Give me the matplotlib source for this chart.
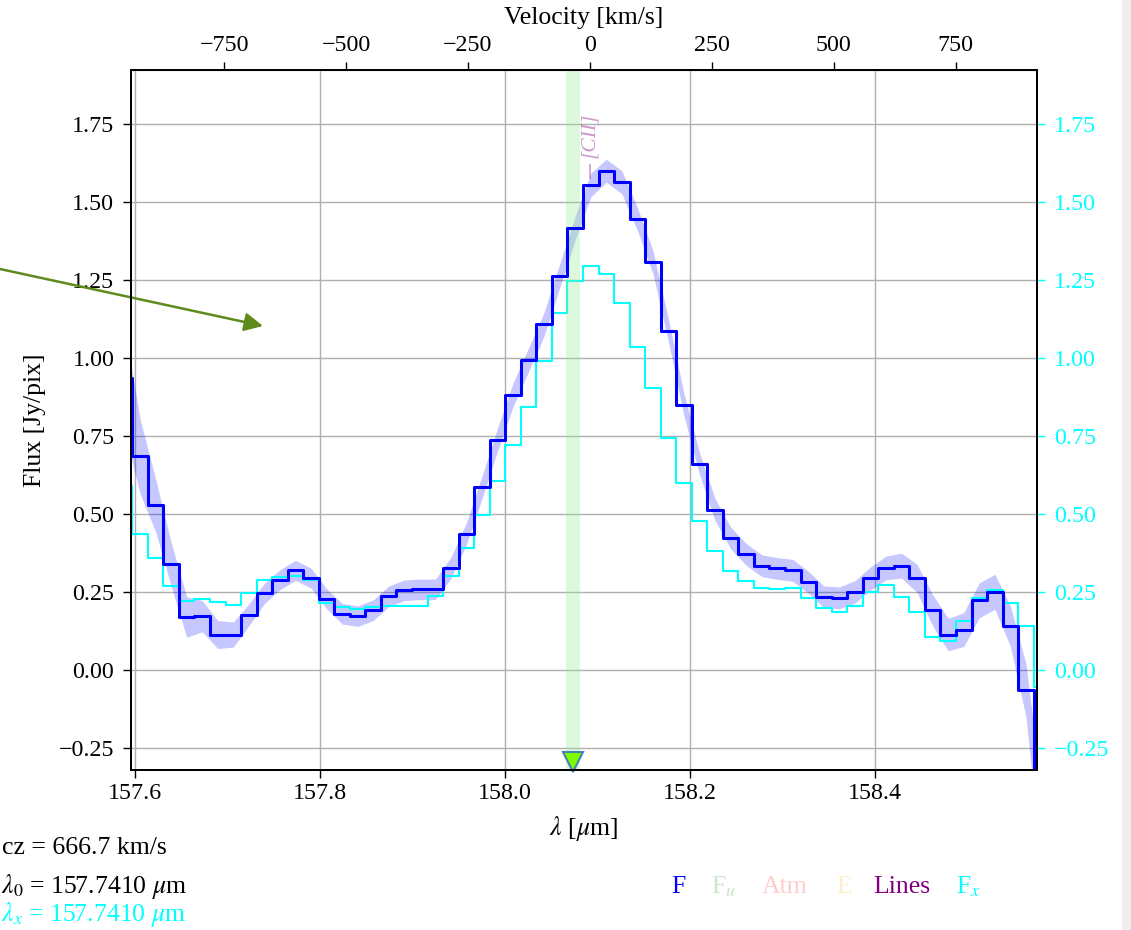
import numpy as np
import matplotlib
matplotlib.use('Agg')
import matplotlib.pyplot as plt
from matplotlib.patches import Rectangle
from matplotlib.ticker import FormatStrFormatter

plt.rcParams['font.family'] = ['Liberation Serif', 'DejaVu Serif']
plt.rcParams['mathtext.fontset'] = 'stix'

# спектр: центри бінів [мкм], потік F, похибка, потік F_x
lam = np.array([
    157.5887, 157.6055, 157.6223, 157.6391, 157.6559, 157.6727, 157.6895, 157.7063,
    157.7231, 157.7399, 157.7567, 157.7735, 157.7903, 157.8071, 157.8239, 157.8407,
    157.8575, 157.8743, 157.8911, 157.9079, 157.9247, 157.9415, 157.9583, 157.9751,
    157.9919, 158.0087, 158.0255, 158.0423, 158.0591, 158.0759, 158.0927, 158.1095,
    158.1263, 158.1431, 158.1599, 158.1767, 158.1935, 158.2103, 158.2271, 158.2439,
    158.2607, 158.2775, 158.2943, 158.3111, 158.3279, 158.3447, 158.3615, 158.3783,
    158.3951, 158.4119, 158.4287, 158.4455, 158.4623, 158.4791, 158.4959, 158.5127,
    158.5295, 158.5463, 158.5631, 158.5799])

flux = np.array([
    0.936, 0.685, 0.528, 0.338, 0.169, 0.172, 0.113, 0.113,
    0.176, 0.245, 0.289, 0.319, 0.294, 0.228, 0.180, 0.172,
    0.191, 0.236, 0.255, 0.258, 0.258, 0.327, 0.437, 0.585,
    0.738, 0.882, 0.995, 1.109, 1.264, 1.417, 1.555, 1.601,
    1.564, 1.446, 1.308, 1.088, 0.850, 0.661, 0.514, 0.423,
    0.370, 0.334, 0.325, 0.319, 0.281, 0.234, 0.231, 0.250,
    0.293, 0.327, 0.334, 0.293, 0.191, 0.113, 0.129, 0.223,
    0.250, 0.140, -0.065, -0.500])

err = np.array([
    0.170, 0.120, 0.085, 0.070, 0.065, 0.050, 0.045, 0.040,
    0.035, 0.033, 0.032, 0.032, 0.032, 0.032, 0.033, 0.033,
    0.033, 0.033, 0.033, 0.033, 0.033, 0.034, 0.035, 0.036,
    0.037, 0.038, 0.038, 0.038, 0.038, 0.038, 0.038, 0.037,
    0.037, 0.037, 0.037, 0.036, 0.036, 0.035, 0.035, 0.035,
    0.035, 0.035, 0.035, 0.035, 0.035, 0.035, 0.035, 0.036,
    0.037, 0.038, 0.040, 0.045, 0.050, 0.052, 0.054, 0.056,
    0.056, 0.065, 0.085, 0.120])

flux_x = np.array([
    0.588, 0.434, 0.357, 0.268, 0.222, 0.228, 0.217, 0.207,
    0.247, 0.287, 0.298, 0.302, 0.287, 0.215, 0.201, 0.195,
    0.200, 0.205, 0.206, 0.206, 0.236, 0.302, 0.391, 0.495,
    0.605, 0.722, 0.842, 0.992, 1.144, 1.248, 1.296, 1.269,
    1.176, 1.037, 0.904, 0.744, 0.599, 0.478, 0.380, 0.316,
    0.284, 0.263, 0.260, 0.263, 0.231, 0.199, 0.186, 0.204,
    0.250, 0.271, 0.234, 0.185, 0.105, 0.092, 0.156, 0.231,
    0.255, 0.215, 0.140, -0.056])

cz = 666.7
lam0 = 157.7410
line_name = '[CII]'
mask_band = (158.0655, 158.0808)
mask_marker = 158.0735

c = 299792.458
lam_obs = lam0 * (1 + cz / c)

tick_fs = 17.3
lab_fs = 18.5

fig = plt.figure(figsize=(11.31, 9.30), dpi=100)
ax = fig.add_axes([0.11583, 0.17204, 0.80106, 0.75269])

# похибка, F_x, маска, F
ax.fill_between(lam, flux - err, flux + err, color='blue', alpha=0.22, lw=0, zorder=1)
ax.plot(lam, flux_x, drawstyle='steps-mid', color='cyan', lw=1.5, zorder=2)
ax.axvspan(mask_band[0], mask_band[1], color='lightgreen', alpha=0.3, lw=0, zorder=2.5)
ax.plot(lam, flux, drawstyle='steps-mid', color='blue', lw=2.2, zorder=3)

# маркер маски внизу
ax.plot([mask_marker], [0.012], marker='v', ms=14, mfc='lawngreen', mec='steelblue',
        mew=1.5, transform=ax.get_xaxis_transform(), clip_on=False, zorder=5)

# лінія [CII]
ax.plot([lam_obs, lam_obs], [1.578, 1.620], color='purple', alpha=0.4, lw=1.2, zorder=4)
ax.text(lam_obs, 1.642, line_name, rotation=90, ha='center', va='bottom',
        color='purple', alpha=0.4, style='italic', fontsize=15.5)

ax.set_xlim(157.5957, 158.5751)
ax.set_ylim(-0.3215, 1.924)
ax.set_xticks([157.6, 157.8, 158.0, 158.2, 158.4])
ax.xaxis.set_major_formatter(FormatStrFormatter('%.1f'))
ax.set_yticks([-0.25, 0.0, 0.25, 0.5, 0.75, 1.0, 1.25, 1.5, 1.75])
ax.grid(True, color='#b0b0b0', lw=1.0)
ax.set_axisbelow(True)
ax.tick_params(direction='out', length=6, width=1, labelsize=tick_fs)
ax.tick_params(axis='y', pad=6)
ax.tick_params(axis='x', pad=3)
for s in ax.spines.values():
    s.set_linewidth(1.4)

ax.set_xlabel(r'$\lambda$ [$\mu$m]', fontsize=lab_fs, va='center')
ax.xaxis.set_label_coords(0.5, -0.083)
ax.set_ylabel('Flux [Jy/pix]', fontsize=lab_fs, va='center')
ax.yaxis.set_label_coords(-0.106, 0.5)

# верхня вісь швидкостей
def lam2vel(l):
    return c * (l / lam_obs - 1)

def vel2lam(v):
    return lam_obs * (1 + v / c)

secax = ax.secondary_xaxis('top', functions=(lam2vel, vel2lam))
secax.set_xticks([-750, -500, -250, 0, 250, 500, 750])
secax.tick_params(direction='out', length=6, width=1, labelsize=tick_fs, pad=4)
secax.set_xlabel('Velocity [km/s]', fontsize=lab_fs, va='center')
secax.xaxis.set_label_coords(0.5, 1.074, transform=ax.transAxes)

# права вісь F_x
ax2 = ax.twinx()
ax2.set_ylim(ax.get_ylim())
ax2.set_yticks([-0.25, 0.0, 0.25, 0.5, 0.75, 1.0, 1.25, 1.5, 1.75])
ax2.tick_params(direction='out', length=6, width=1, labelsize=tick_fs, pad=6,
                colors='cyan')
for s in ax2.spines.values():
    s.set_linewidth(1.4)

# підписи під графіком
fig.text(0.002, 0.0882, 'cz = 666.7 km/s', fontsize=lab_fs, va='center')
fig.text(0.001, 0.0473, r'$\lambda_0$ = 157.7410 $\mu$m', fontsize=lab_fs, va='center')
fig.text(0.001, 0.0165, r'$\lambda_x$ = 157.7410 $\mu$m', fontsize=lab_fs, va='center',
         color='cyan')

leg_labels = ['F', r'F$_u$', 'Atm', 'E', 'Lines', r'F$_x$']
leg_colors = ['blue', '#cce6cc', '#ffcccc', '#ffedcc', 'purple', 'cyan']
leg_x = [0.5995, 0.640, 0.694, 0.746, 0.797, 0.856]
for t, col, xx in zip(leg_labels, leg_colors, leg_x):
    fig.text(xx, 0.0462, t, color=col, fontsize=lab_fs, ha='center', va='center')

# стрілка і сіра смуга справа
ax.annotate('', xy=(263 / 1131, 1 - 326 / 930), xytext=(0.0, 1 - 269 / 930),
            xycoords='figure fraction', textcoords='figure fraction',
            arrowprops=dict(arrowstyle='-|>', color='#5f8a1c', lw=1.8,
                            mutation_scale=28, shrinkA=0, shrinkB=0))
fig.add_artist(Rectangle((1122 / 1131, 0), 9 / 1131, 1, transform=fig.transFigure,
                         facecolor='#efefef', edgecolor='none'))

fig.savefig('out.png', dpi=100)
